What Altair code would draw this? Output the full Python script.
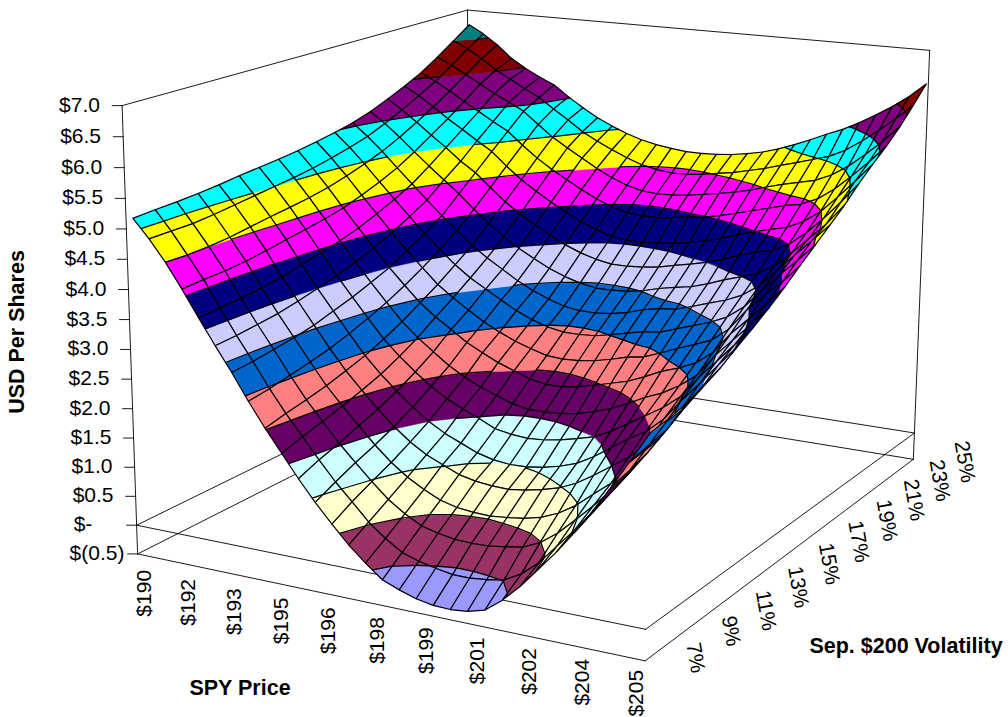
import numpy as np
import altair as alt

# Grid of the surface: SPY price against Sep. $200 volatility
prices = [190 + 0.5 * i for i in range(31)]
vols = list(range(7, 26))

# Position value in USD per share, one row per volatility level
v07 = [5.15, 4.85, 4.50, 4.10, 3.67, 3.25, 2.85, 2.42, 2.02, 1.65, 1.28, 0.94, 0.63, 0.34, 0.09, -0.13, -0.24, -0.33, -0.38, -0.39, -0.36, -0.28, -0.06, 0.22, 0.55, 0.88, 1.25, 1.65, 2.08, 2.53, 3.00]
v08 = [5.17, 4.85, 4.49, 4.12, 3.69, 3.27, 2.88, 2.47, 2.10, 1.76, 1.42, 1.10, 0.82, 0.53, 0.31, 0.13, 0.04, -0.02, -0.07, -0.07, -0.04, 0.01, 0.17, 0.41, 0.73, 1.05, 1.39, 1.76, 2.16, 2.60, 3.05]
v09 = [5.18, 4.85, 4.50, 4.13, 3.71, 3.31, 2.93, 2.54, 2.17, 1.85, 1.53, 1.25, 0.98, 0.73, 0.54, 0.39, 0.32, 0.27, 0.26, 0.27, 0.31, 0.36, 0.49, 0.70, 0.97, 1.25, 1.55, 1.89, 2.27, 2.67, 3.12]
v10 = [5.20, 4.88, 4.53, 4.16, 3.75, 3.35, 2.98, 2.61, 2.25, 1.95, 1.66, 1.38, 1.13, 0.93, 0.77, 0.64, 0.57, 0.54, 0.53, 0.56, 0.60, 0.67, 0.79, 0.97, 1.21, 1.44, 1.74, 2.12, 2.48, 2.85, 3.25]
v11 = [5.23, 4.92, 4.58, 4.21, 3.79, 3.42, 3.05, 2.69, 2.35, 2.06, 1.78, 1.53, 1.31, 1.14, 1.02, 0.90, 0.84, 0.81, 0.80, 0.84, 0.90, 0.98, 1.11, 1.29, 1.49, 1.69, 1.95, 2.33, 2.66, 3.00, 3.37]
v12 = [5.27, 4.96, 4.63, 4.27, 3.88, 3.50, 3.15, 2.80, 2.46, 2.18, 1.93, 1.70, 1.50, 1.34, 1.22, 1.10, 1.03, 1.00, 1.01, 1.05, 1.12, 1.22, 1.38, 1.58, 1.78, 1.95, 2.20, 2.56, 2.88, 3.22, 3.55]
v13 = [5.30, 5.00, 4.67, 4.32, 3.95, 3.59, 3.25, 2.92, 2.60, 2.34, 2.11, 1.90, 1.73, 1.60, 1.48, 1.35, 1.30, 1.28, 1.30, 1.35, 1.42, 1.50, 1.64, 1.82, 2.00, 2.18, 2.41, 2.77, 3.08, 3.40, 3.72]
v14 = [5.33, 5.04, 4.72, 4.38, 4.03, 3.69, 3.37, 3.06, 2.76, 2.52, 2.31, 2.11, 1.95, 1.82, 1.72, 1.62, 1.57, 1.57, 1.59, 1.64, 1.72, 1.82, 1.95, 2.10, 2.22, 2.39, 2.61, 2.98, 3.28, 3.58, 3.90]
v15 = [5.37, 5.09, 4.78, 4.45, 4.13, 3.81, 3.50, 3.22, 2.95, 2.74, 2.56, 2.37, 2.23, 2.10, 2.00, 1.90, 1.85, 1.85, 1.90, 1.97, 2.05, 2.13, 2.25, 2.39, 2.49, 2.62, 2.84, 3.20, 3.49, 3.78, 4.10]
v16 = [5.42, 5.16, 4.87, 4.56, 4.26, 3.96, 3.67, 3.40, 3.14, 2.94, 2.76, 2.59, 2.45, 2.33, 2.24, 2.16, 2.14, 2.16, 2.20, 2.27, 2.35, 2.40, 2.51, 2.63, 2.74, 2.86, 3.09, 3.45, 3.74, 4.00, 4.32]
v17 = [5.48, 5.24, 4.97, 4.68, 4.40, 4.12, 3.85, 3.60, 3.36, 3.16, 3.00, 2.84, 2.69, 2.57, 2.48, 2.43, 2.43, 2.45, 2.51, 2.58, 2.65, 2.68, 2.78, 2.88, 2.98, 3.11, 3.33, 3.65, 3.95, 4.23, 4.53]
v18 = [5.55, 5.33, 5.09, 4.82, 4.56, 4.30, 4.05, 3.81, 3.58, 3.39, 3.22, 3.05, 2.91, 2.80, 2.71, 2.67, 2.67, 2.70, 2.76, 2.85, 2.91, 2.94, 3.03, 3.13, 3.22, 3.35, 3.55, 3.85, 4.15, 4.44, 4.74]
v19 = [5.65, 5.46, 5.24, 5.00, 4.77, 4.55, 4.33, 4.08, 3.85, 3.65, 3.47, 3.32, 3.18, 3.07, 2.99, 2.94, 2.94, 2.96, 3.01, 3.09, 3.15, 3.20, 3.29, 3.40, 3.49, 3.59, 3.76, 4.02, 4.31, 4.60, 4.95]
v20 = [5.78, 5.61, 5.41, 5.20, 5.00, 4.78, 4.60, 4.36, 4.13, 3.94, 3.77, 3.62, 3.48, 3.37, 3.29, 3.24, 3.24, 3.26, 3.30, 3.37, 3.43, 3.50, 3.59, 3.70, 3.79, 3.86, 4.01, 4.24, 4.53, 4.85, 5.20]
v21 = [5.92, 5.77, 5.59, 5.40, 5.23, 5.05, 4.88, 4.64, 4.42, 4.24, 4.07, 3.92, 3.78, 3.67, 3.58, 3.55, 3.55, 3.57, 3.60, 3.65, 3.72, 3.80, 3.90, 3.99, 4.07, 4.14, 4.28, 4.49, 4.78, 5.09, 5.42]
v22 = [6.08, 5.94, 5.79, 5.62, 5.46, 5.30, 5.15, 4.92, 4.71, 4.53, 4.37, 4.22, 4.08, 3.97, 3.89, 3.87, 3.87, 3.91, 3.96, 3.99, 4.05, 4.13, 4.21, 4.29, 4.37, 4.43, 4.56, 4.77, 5.03, 5.31, 5.62]
v23 = [6.28, 6.15, 6.00, 5.85, 5.70, 5.56, 5.42, 5.20, 4.99, 4.82, 4.66, 4.50, 4.36, 4.25, 4.18, 4.16, 4.17, 4.20, 4.25, 4.30, 4.36, 4.43, 4.52, 4.60, 4.67, 4.74, 4.87, 5.06, 5.30, 5.56, 5.85]
v24 = [6.50, 6.37, 6.21, 6.02, 5.87, 5.72, 5.58, 5.39, 5.21, 5.02, 4.87, 4.74, 4.62, 4.52, 4.46, 4.43, 4.44, 4.47, 4.52, 4.57, 4.64, 4.71, 4.80, 4.88, 4.97, 5.06, 5.20, 5.40, 5.62, 5.86, 6.12]
v25 = [6.72, 6.57, 6.38, 6.15, 5.98, 5.84, 5.72, 5.52, 5.34, 5.18, 5.05, 4.94, 4.85, 4.79, 4.75, 4.72, 4.72, 4.73, 4.76, 4.81, 4.87, 4.96, 5.07, 5.19, 5.32, 5.44, 5.59, 5.76, 5.94, 6.15, 6.40]
surface = np.array([v07, v08, v09, v10, v11, v12, v13, v14, v15, v16, v17, v18, v19, v20, v21, v22, v23, v24, v25])

# Colour of each $0.50 band, from $(0.5) upwards
band_colors = ["#9999FF", "#993366", "#FFFFCC", "#CCFFFF", "#660066", "#FF8080", "#0066CC", "#CCCCFF",
               "#000080", "#FF00FF", "#FFFF00", "#00FFFF", "#800080", "#800000", "#008080"]
z_min, z_max, z_step = -0.5, 7.0, 0.5

z_ticks = [7.0, 6.5, 6.0, 5.5, 5.0, 4.5, 4.0, 3.5, 3.0, 2.5, 2.0, 1.5, 1.0, 0.5, 0.0, -0.5]
z_labels = ["$7.0", "$6.5", "$6.0", "$5.5", "$5.0", "$4.5", "$4.0", "$3.5", "$3.0", "$2.5", "$2.0", "$1.5", "$1.0", "$0.5", "$-", "$(0.5)"]
price_labels = ["$190", "$192", "$193", "$195", "$196", "$198", "$199", "$201", "$202", "$204", "$205"]
vol_labels = ["7%", "9%", "11%", "13%", "15%", "17%", "19%", "21%", "23%", "25%"]

FONT = "Liberation Sans"

# Camera: a perspective matrix solved from where the box corners fall on the canvas.
# World axes are price (0..1), volatility (0..1) and USD value.
calibration = [
    (0, 0, -0.5, 138, 554), (0, 0, 0, 138, 525), (0, 0, 7, 121, 105),
    (1, 0, -0.5, 645, 661), (1, 0, 0, 645, 630),
    (1, 1, -0.5, 914, 458), (1, 1, 0, 915, 433), (1, 1, 7, 929, 51),
    (0, 1, -0.5, 467, 388), (0, 1, 0, 468, 362), (0, 1, 7, 469, 10),
]
rows = []
for a, b, c, sx, sy in calibration:
    rows.append([a, b, c, 1, 0, 0, 0, 0, -sx * a, -sx * b, -sx * c, -sx])
    rows.append([0, 0, 0, 0, a, b, c, 1, -sy * a, -sy * b, -sy * c, -sy])
camera = np.linalg.svd(np.array(rows, float))[2][-1].reshape(3, 4)
if camera[2] @ np.array([0, 0, 0, 1.0]) < 0:
    camera = -camera


def project(a, b, c):
    x, y, w = camera @ np.array([a, b, c, 1.0])
    return round(float(x / w), 2), round(float(y / w), 2)


def depth(a, b, c):
    return float(camera[2] @ np.array([a, b, c, 1.0]))


def clip(poly, level, above):
    """Cut a polygon of (a, b, z) vertices at a value level, keeping one side."""
    out = []
    n = len(poly)
    for i in range(n):
        p, q = poly[i], poly[(i + 1) % n]
        p_in = p[2] >= level if above else p[2] <= level
        q_in = q[2] >= level if above else q[2] <= level
        if p_in:
            out.append(p)
        if p_in != q_in:
            t = (level - p[2]) / (q[2] - p[2])
            out.append((p[0] + t * (q[0] - p[0]), p[1] + t * (q[1] - p[1]), level))
    return out


def feature(geom_type, coords, fill, stroke, width):
    return {"type": "Feature",
            "geometry": {"type": geom_type, "coordinates": coords},
            "properties": {"fill": fill, "stroke": stroke, "sw": width}}


def ring(points):
    pts = [list(project(*p)) for p in points]
    return pts + [pts[0]]


MESH = 1.2
features = []

# Box: walls and the two floor outlines, behind the surface
box_edges = [
    ((0, 0, 7), (0, 0, -0.5)), ((0, 0, 7), (0, 1, 7)), ((0, 1, 7), (1, 1, 7)),
    ((1, 1, 7), (1, 1, -0.5)), ((0, 1, 7), (0, 1, 0)),
    ((0, 0, -0.5), (1, 0, -0.5)), ((1, 0, -0.5), (1, 1, -0.5)), ((1, 1, -0.5), (0, 1, -0.5)), ((0, 1, -0.5), (0, 0, -0.5)),
    ((0, 0, 0), (1, 0, 0)), ((1, 0, 0), (1, 1, 0)), ((1, 1, 0), (0, 1, 0)), ((0, 1, 0), (0, 0, 0)),
]
for p, q in box_edges:
    features.append(feature("LineString", [list(project(*p)), list(project(*q))], "transparent", "#000000", 0.9))
for z in z_ticks:
    x, y = project(0, 0, z)
    features.append(feature("LineString", [[round(x - 10, 2), y], [x, y]], "transparent", "#000000", 0.9))

# Surface cells, painted from the far side of the box to the near side
na = [0.004 + 0.992 * (p - prices[0]) / (prices[-1] - prices[0]) for p in prices]
nb = [0.012 + 0.988 * (v - vols[0]) / (vols[-1] - vols[0]) for v in vols]

cells = []
for j in range(len(vols) - 1):
    for i in range(len(prices) - 1):
        quad = [(na[i], nb[j], surface[j, i]), (na[i + 1], nb[j], surface[j, i + 1]),
                (na[i + 1], nb[j + 1], surface[j + 1, i + 1]), (na[i], nb[j + 1], surface[j + 1, i])]
        cells.append((np.mean([depth(*p) for p in quad]), quad))
cells.sort(key=lambda c: -c[0])

for _, quad in cells:
    zs = [p[2] for p in quad]
    for k, color in enumerate(band_colors):
        lo, hi = z_min + k * z_step, z_min + (k + 1) * z_step
        if max(zs) < lo or min(zs) > hi:
            continue
        piece = clip(clip(quad, lo, True), hi, False)
        if len(piece) >= 3:
            features.append(feature("Polygon", [ring(piece)], color, color, 0.5))
    # contour segments where the cell crosses a band boundary
    for k in range(1, len(band_colors)):
        level = z_min + k * z_step
        crossings = []
        for m in range(4):
            p, q = quad[m], quad[(m + 1) % 4]
            if (p[2] - level) * (q[2] - level) < 0:
                t = (level - p[2]) / (q[2] - p[2])
                crossings.append(list(project(p[0] + t * (q[0] - p[0]), p[1] + t * (q[1] - p[1]), level)))
        for s in range(0, len(crossings) - 1, 2):
            features.append(feature("LineString", crossings[s:s + 2], "transparent", "#000000", MESH))
    features.append(feature("LineString", ring(quad), "transparent", "#000000", MESH))

identity = dict(type="identity", scale=1, translate=[0, 0])

shapes = alt.Chart(alt.Data(values=features)).mark_geoshape(strokeJoin="round", strokeCap="round").encode(
    fill=alt.Fill("properties.fill:N", scale=None),
    stroke=alt.Stroke("properties.stroke:N", scale=None),
    strokeWidth=alt.StrokeWidth("properties.sw:Q", scale=None),
).project(**identity)


def text_layer(records, **mark):
    return alt.Chart(alt.Data(values=records)).mark_text(font=FONT, color="#000000", **mark).encode(
        longitude="x:Q", latitude="y:Q", text="t:N"
    ).project(**identity)


# USD axis labels, left aligned along the vertical edge
z_records = []
for z, label in zip(z_ticks, z_labels):
    x, y = project(0, 0, z)
    z_records.append({"x": x - (68 if z < 0 else 63), "y": y, "t": label})

# Price labels run along the front floor edge
price_records = []
for n, label in enumerate(price_labels):
    u = n / (len(price_labels) - 1)
    x, y = project(u, 0, -0.5)
    price_records.append({"x": x + 7 - 15 * u, "y": y + 16 - 7 * u, "t": label})

# Volatility labels run along the right floor edge
vol_records = []
for n, label in enumerate(vol_labels):
    x, y = project(1, n / (len(vol_labels) - 1), -0.5)
    vol_records.append({"x": x + 47, "y": y - 18, "t": label})

chart = alt.layer(
    shapes,
    text_layer(z_records, fontSize=21, align="left", baseline="middle"),
    text_layer(price_records, fontSize=21, align="right", baseline="middle", angle=270),
    text_layer(vol_records, fontSize=21, align="left", baseline="middle", angle=80),
    text_layer([{"x": 18, "y": 332, "t": "USD Per Shares"}], fontSize=21.5, fontWeight="bold", align="center", baseline="middle", angle=270),
    text_layer([{"x": 240, "y": 689, "t": "SPY Price"}], fontSize=21.5, fontWeight="bold", align="center", baseline="middle"),
    text_layer([{"x": 906, "y": 647, "t": "Sep. $200 Volatility"}], fontSize=21.5, fontWeight="bold", align="center", baseline="middle"),
).properties(
    width=1008, height=717, padding=0,
    autosize=alt.AutoSizeParams(type="none"), background="#FFFFFF",
).configure_view(stroke=None)

chart.save("out.html", embed_options={"renderer": "svg", "actions": False})
